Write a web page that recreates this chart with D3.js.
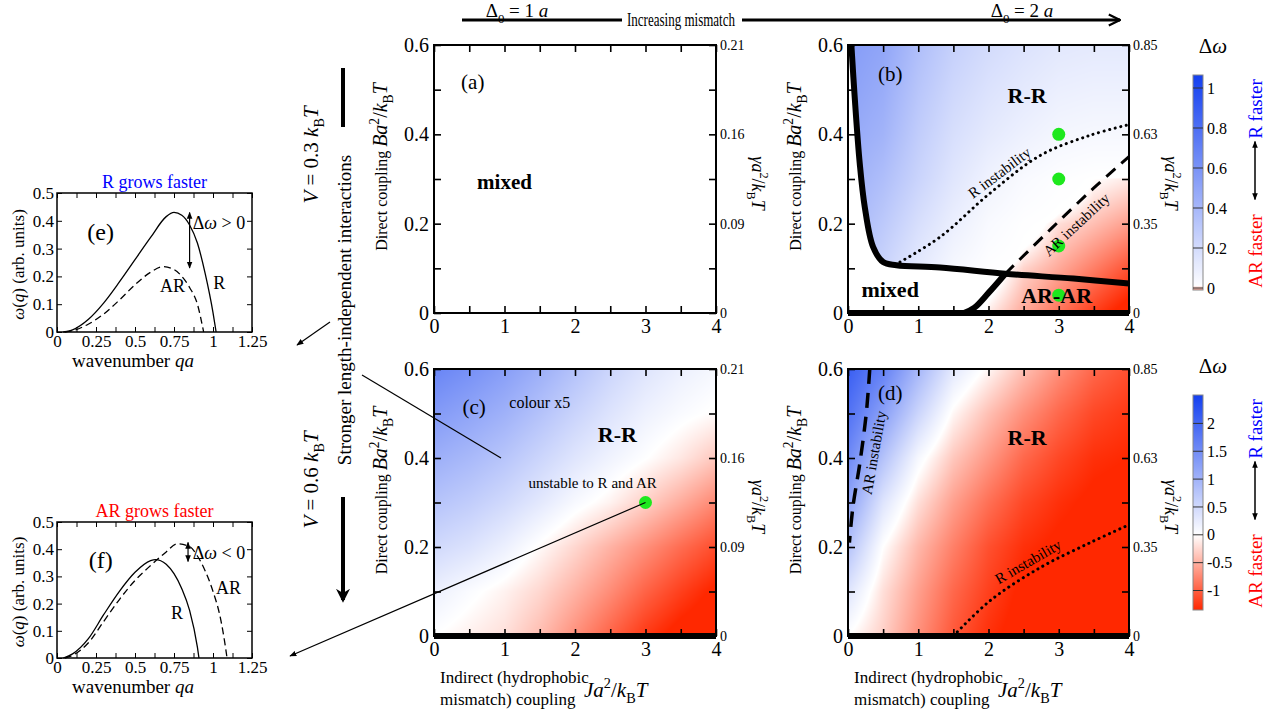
<!DOCTYPE html>
<html>
<head>
<meta charset="utf-8">
<style>
  body { margin: 0; background: #fff; }
  svg { display: block; }
  svg text { font-family: "Liberation Serif", "DejaVu Serif", serif; }
</style>
</head>
<body>
<svg width="1275" height="715"></svg>
<script src="https://d3js.org/d3.v7.min.js"></script>
<script>

// ---------- DATA ----------

// grid on which the colour maps (Delta omega) were estimated
var gridJ = [0, 0.5, 1, 1.5, 2, 2.5, 3, 3.5, 4];
var gridB = [0, 0.1, 0.2, 0.3, 0.4, 0.5, 0.6];

// panel (b), rows are B = 0 ... 0.6
var dwB = [
  [0.30, 0.20, 0.08, 0.02, -0.002, -0.008, -0.013, -0.018, -0.022],
  [0.35, 0.24, 0.12, 0.04, 0.005, -0.004, -0.008, -0.012, -0.016],
  [0.40, 0.30, 0.18, 0.09, 0.030, 0.005, -0.003, -0.006, -0.009],
  [0.44, 0.36, 0.24, 0.14, 0.070, 0.030, 0.010, 0.000, -0.002],
  [0.48, 0.42, 0.28, 0.18, 0.120, 0.080, 0.050, 0.040, 0.040],
  [0.52, 0.46, 0.32, 0.22, 0.160, 0.120, 0.090, 0.080, 0.080],
  [0.55, 0.50, 0.36, 0.26, 0.200, 0.160, 0.130, 0.120, 0.120]
];
// panel (c), already multiplied by 5 ("colour x5")
var dwC = [
  [0.00, -0.10, -0.20, -0.42, -0.70, -0.98, -1.25, -1.45, -1.55],
  [0.20, 0.05, -0.08, -0.25, -0.48, -0.72, -0.98, -1.20, -1.40],
  [0.50, 0.38, 0.20, -0.03, -0.25, -0.48, -0.70, -0.92, -1.12],
  [0.78, 0.66, 0.50, 0.30, 0.08, -0.08, -0.30, -0.52, -0.75],
  [1.05, 0.92, 0.76, 0.55, 0.34, 0.16, 0.01, -0.15, -0.35],
  [1.32, 1.18, 1.02, 0.80, 0.57, 0.36, 0.18, 0.06, -0.03],
  [1.60, 1.45, 1.27, 1.05, 0.80, 0.55, 0.35, 0.20, 0.10]
];
// panel (d)
var dwD = [
  [0.00, -0.30, -0.70, -1.05, -1.30, -1.45, -1.50, -1.50, -1.50],
  [0.35, -0.20, -0.60, -0.95, -1.20, -1.40, -1.50, -1.50, -1.50],
  [0.80, 0.00, -0.45, -0.80, -1.10, -1.30, -1.40, -1.45, -1.50],
  [1.20, 0.35, -0.20, -0.60, -0.90, -1.15, -1.30, -1.40, -1.45],
  [1.55, 0.80, 0.10, -0.35, -0.65, -0.95, -1.15, -1.30, -1.35],
  [1.85, 1.25, 0.55, -0.05, -0.40, -0.70, -0.95, -1.15, -1.25],
  [2.10, 1.65, 0.95, 0.30, -0.05, -0.40, -0.70, -0.95, -1.10]
];

// panel (b) phase boundaries
var mixedEdgeJ = [0.048, 0.095, 0.167, 0.238, 0.357, 0.5, 0.69, 1.31, 2.24, 3.21, 4];
var mixedEdgeB = [0.6, 0.484, 0.335, 0.238, 0.148, 0.114, 0.107, 0.102, 0.088, 0.077, 0.066];
var arEdgeJ = [1.65, 1.8, 2.0, 2.24];
var arEdgeB = [0, 0.012, 0.045, 0.088];
var rInstabBJ = [0.74, 1.31, 2.02, 2.74, 3.45, 3.98];
var rInstabBB = [0.114, 0.17, 0.268, 0.353, 0.398, 0.421];
var arInstabBJ = [2.24, 2.9, 3.5, 4];
var arInstabBB = [0.088, 0.19, 0.28, 0.35];
var dotsBJ = [3, 3, 3, 3];
var dotsBB = [0.4, 0.3, 0.15, 0.04];

// panel (c)
var dotsCJ = [3];
var dotsCB = [0.3];

// panel (d) instability lines
var arInstabDJ = [0.31, 0.26, 0.17, 0.07, 0.02];
var arInstabDB = [0.6, 0.5, 0.39, 0.29, 0.21];
var rInstabDJ = [1.5, 2.02, 2.74, 3.45, 4];
var rInstabDB = [0, 0.079, 0.154, 0.21, 0.25];

// axis ticks
var jTicks = [0, 1, 2, 3, 4];
var bTicks = [0, 0.2, 0.4, 0.6];
var gammaLabelsA = ["0", "0.09", "0.16", "0.21"];
var gammaLabelsB = ["0", "0.35", "0.63", "0.85"];
var cbTicksB = [0, 0.2, 0.4, 0.6, 0.8, 1];
var cbTicksD = [-1, -0.5, 0, 0.5, 1, 1.5, 2];

// panels (e) and (f): growth rate omega(q)
var qTicks = [0, 0.25, 0.5, 0.75, 1, 1.25];
var wTicks = [0, 0.1, 0.2, 0.3, 0.4, 0.5];
var eRq = [0.04, 0.1, 0.2, 0.3, 0.4, 0.5, 0.6, 0.7, 0.75, 0.8, 0.85, 0.9, 0.95, 1.0, 1.02];
var eRw = [0, 0.008, 0.045, 0.105, 0.18, 0.26, 0.34, 0.415, 0.43, 0.42, 0.385, 0.32, 0.21, 0.07, 0];
var eARq = [0.05, 0.1, 0.2, 0.3, 0.4, 0.5, 0.6, 0.68, 0.75, 0.8, 0.85, 0.9, 0.94];
var eARw = [0, 0.005, 0.028, 0.065, 0.115, 0.17, 0.215, 0.235, 0.225, 0.2, 0.16, 0.1, 0];
var fRq = [0.04, 0.1, 0.2, 0.3, 0.4, 0.5, 0.6, 0.63, 0.7, 0.75, 0.8, 0.85, 0.9, 0.91];
var fRw = [0, 0.015, 0.07, 0.16, 0.245, 0.315, 0.358, 0.362, 0.345, 0.31, 0.255, 0.175, 0.04, 0];
var fARq = [0.05, 0.1, 0.2, 0.3, 0.4, 0.5, 0.6, 0.7, 0.77, 0.85, 0.9, 0.95, 1.0, 1.05, 1.08, 1.09];
var fARw = [0, 0.01, 0.055, 0.135, 0.215, 0.285, 0.34, 0.39, 0.42, 0.41, 0.375, 0.32, 0.245, 0.14, 0.04, 0];

// ---------- SETUP ----------

var svg = d3.select("svg");
var RED = "#ff2800", BLUE = "#1440f0", GREEN = "#1ee81e";

var colorB = d3.scaleLinear().domain([-0.02, 0, 1.06]).range([RED, "#fff", BLUE]).clamp(true);
var colorD = d3.scaleLinear().domain([-1.35, 0, 2.5]).range([RED, "#fff", BLUE]).clamp(true);

function zip(a, b) { return a.map(function(v, i) { return [v, b[i]]; }); }

// tspans for little bits of maths
function rich(t, parts, size) {
  var shift = 0;
  parts.forEach(function(p) {
    var s = t.append("tspan").text(p.t);
    var want = p.sub ? size * 0.3 : p.sup ? -size * 0.42 : 0;
    if (want !== shift) { s.attr("dy", want - shift); shift = want; }
    if (p.i) s.attr("font-style", "italic");
    if (p.sub || p.sup) s.attr("font-size", size * 0.68);
    if (p.fs) s.attr("font-size", p.fs);
  });
  return t;
}

function label(x, y, size, rot, anchor) {
  return svg.append("text")
    .attr("transform", "translate(" + x + "," + y + ")" + (rot ? " rotate(" + rot + ")" : ""))
    .attr("text-anchor", anchor || "middle")
    .attr("font-size", size);
}

// bilinear lookup in the estimated grid
function sample(grid, J, B) {
  var i = Math.max(0, Math.min(gridJ.length - 2, d3.bisectRight(gridJ, J) - 1));
  var j = Math.max(0, Math.min(gridB.length - 2, d3.bisectRight(gridB, B) - 1));
  var tx = (J - gridJ[i]) / (gridJ[i + 1] - gridJ[i]);
  var ty = (B - gridB[j]) / (gridB[j + 1] - gridB[j]);
  return (1 - tx) * (1 - ty) * grid[j][i] + tx * (1 - ty) * grid[j][i + 1] +
         (1 - tx) * ty * grid[j + 1][i] + tx * ty * grid[j + 1][i + 1];
}

function heat(x, y, grid, color) {
  var x0 = x.range()[0], y0 = y.range()[1];
  var w = Math.round(x.range()[1] - x0), h = Math.round(y.range()[0] - y0);
  var cv = document.createElement("canvas");
  cv.width = w; cv.height = h;
  var ctx = cv.getContext("2d"), img = ctx.createImageData(w, h);
  for (var py = 0; py < h; py++) {
    for (var px = 0; px < w; px++) {
      var c = d3.rgb(color(sample(grid, x.invert(x0 + px + 0.5), y.invert(y0 + py + 0.5))));
      var k = (py * w + px) * 4;
      img.data[k] = c.r; img.data[k + 1] = c.g; img.data[k + 2] = c.b; img.data[k + 3] = 255;
    }
  }
  ctx.putImageData(img, 0, 0);
  svg.append("image").attr("x", x0).attr("y", y0).attr("width", w).attr("height", h)
    .attr("preserveAspectRatio", "none").attr("href", cv.toDataURL());
}

function panelScales(p) {
  return {
    x: d3.scaleLinear().domain([0, 4]).range([p.x0, p.x1]),
    y: d3.scaleLinear().domain([0, 0.6]).range([p.y1, p.y0])
  };
}

function frameAxes(s, gammaLabels) {
  var x = s.x, y = s.y;
  var minorJ = d3.range(0, 4.01, 0.5), minorB = d3.range(0, 0.61, 0.1).map(function(d) { return +d.toFixed(1); });
  var g = svg.append("g");
  g.append("g").attr("transform", "translate(0," + y.range()[0] + ")")
    .call(d3.axisBottom(x).tickValues(minorJ).tickSize(-7).tickPadding(6)
      .tickFormat(function(d) { return jTicks.indexOf(d) >= 0 ? d : ""; }));
  g.append("g").attr("transform", "translate(0," + y.range()[1] + ")")
    .call(d3.axisTop(x).tickValues(minorJ).tickSize(-7).tickFormat(""));
  g.append("g").attr("transform", "translate(" + x.range()[0] + ",0)")
    .call(d3.axisLeft(y).tickValues(minorB).tickSize(-7).tickPadding(5)
      .tickFormat(function(d) { return bTicks.indexOf(d) >= 0 ? (d === 0 ? "0" : d3.format(".1f")(d)) : ""; }));
  var right = g.append("g").attr("transform", "translate(" + x.range()[1] + ",0)")
    .call(d3.axisRight(y).tickValues(minorB).tickSize(-7).tickPadding(4)
      .tickFormat(function(d) { var k = bTicks.indexOf(d); return k >= 0 ? gammaLabels[k] : ""; }));
  g.selectAll(".domain").remove();
  g.selectAll(".tick line").attr("stroke", "#000").attr("stroke-width", 1.6);
  g.selectAll("text").attr("font-size", 20).attr("fill", "#000");
  right.selectAll("text").attr("font-size", 14);
  svg.append("rect").attr("x", x.range()[0]).attr("y", y.range()[1])
    .attr("width", x.range()[1] - x.range()[0]).attr("height", y.range()[0] - y.range()[1])
    .attr("fill", "none").attr("stroke", "#000").attr("stroke-width", 2);
}

function yTitles(s) {
  var x0 = s.x.range()[0], x1 = s.x.range()[1];
  var cy = (s.y.range()[0] + s.y.range()[1]) / 2 - 12;
  rich(label(x0 - 47, cy, 16, -90), [
    { t: "Direct coupling " }, { t: "Ba", i: 1, fs: 20 }, { t: "2", sup: 1 },
    { t: "/", fs: 20 }, { t: "k", i: 1, fs: 20 }, { t: "B", sub: 1 }, { t: "T", i: 1, fs: 20 }], 20);
  rich(label(x1 + 36, cy + 16, 18, 90), [
    { t: "γa", i: 1 }, { t: "2", sup: 1 }, { t: "/" }, { t: "k", i: 1 }, { t: "B", sub: 1 }, { t: "T", i: 1 }], 18);
}

function xTitle(s) {
  var x0 = s.x.range()[0], yb = s.y.range()[0];
  label(x0 + 6, yb + 47, 17, 0, "start").text("Indirect (hydrophobic");
  label(x0 + 6, yb + 69, 17, 0, "start").text("mismatch) coupling");
  rich(label(x0 + 150, yb + 61, 21, 0, "start"), [
    { t: "Ja", i: 1 }, { t: "2", sup: 1 }, { t: "/" }, { t: "k", i: 1 }, { t: "B", sub: 1 }, { t: "T", i: 1 }], 21);
}

var line = d3.line().curve(d3.curveCatmullRom.alpha(0.5));
function curve(s, J, B, width, dash) {
  var p = svg.append("path")
    .attr("d", line(zip(J, B).map(function(d) { return [s.x(d[0]), s.y(d[1])]; })))
    .attr("fill", "none").attr("stroke", "#000").attr("stroke-width", width)
    .attr("stroke-linejoin", "round");
  if (dash === "dot") p.attr("stroke-dasharray", "0.1,5.6").attr("stroke-linecap", "round");
  else if (dash) p.attr("stroke-dasharray", dash);
  return p;
}
function dots(s, J, B) {
  svg.append("g").selectAll("circle").data(zip(J, B)).join("circle")
    .attr("cx", function(d) { return s.x(d[0]); }).attr("cy", function(d) { return s.y(d[1]); })
    .attr("r", 6.5).attr("fill", GREEN);
}
function bottomBar(s) {
  svg.append("line").attr("x1", s.x(0)).attr("x2", s.x(4)).attr("y1", s.y(0)).attr("y2", s.y(0))
    .attr("stroke", "#000").attr("stroke-width", 6);
}

// arrow markers
var defs = svg.append("defs");
defs.append("marker").attr("id", "tri").attr("viewBox", "0 0 10 10").attr("refX", 9).attr("refY", 5)
  .attr("markerWidth", 7).attr("markerHeight", 7).attr("markerUnits", "userSpaceOnUse").attr("orient", "auto-start-reverse")
  .append("path").attr("d", "M0,1 L10,5 L0,9 Z").attr("fill", "#000");
defs.append("marker").attr("id", "big").attr("viewBox", "0 0 10 10").attr("refX", 8).attr("refY", 5)
  .attr("markerWidth", 14).attr("markerHeight", 14).attr("markerUnits", "userSpaceOnUse").attr("orient", "auto")
  .append("path").attr("d", "M0,0 L10,5 L0,10 L3,5 Z").attr("fill", "#000");
defs.append("marker").attr("id", "open").attr("viewBox", "0 0 10 10").attr("refX", 9).attr("refY", 5)
  .attr("markerWidth", 14).attr("markerHeight", 14).attr("markerUnits", "userSpaceOnUse").attr("orient", "auto")
  .append("path").attr("d", "M1,1 L9,5 L1,9").attr("fill", "none").attr("stroke", "#000").attr("stroke-width", 1.6);

// ---------- PANEL (a) ----------
var A = panelScales({ x0: 434, x1: 716, y0: 45, y1: 313 });
frameAxes(A, gammaLabelsA);
yTitles(A);
label(A.x(0.55), A.y(0.502), 21).text("(a)");
label(A.x(1.0), A.y(0.278), 21).attr("font-weight", "bold").text("mixed");

// ---------- PANEL (b) ----------
var Bp = panelScales({ x0: 848, x1: 1129, y0: 45, y1: 313 });
heat(Bp.x, Bp.y, dwB, colorB);
// mixed (uncoloured) region
var mixedPoly = [[0, 0.6]]
  .concat(zip(mixedEdgeJ, mixedEdgeB).filter(function(d) { return d[0] <= 2.25; }))
  .concat(zip(arEdgeJ, arEdgeB).reverse())
  .concat([[0, 0]]);
svg.append("path").attr("fill", "#fff")
  .attr("d", d3.line().curve(d3.curveCatmullRom.alpha(0.5))(mixedPoly.map(function(d) { return [Bp.x(d[0]), Bp.y(d[1])]; })));
curve(Bp, rInstabBJ, rInstabBB, 3, "dot");
curve(Bp, arInstabBJ, arInstabBB, 3, "12,8");
curve(Bp, mixedEdgeJ, mixedEdgeB, 6);
curve(Bp, arEdgeJ, arEdgeB, 6);
bottomBar(Bp);
dots(Bp, dotsBJ, dotsBB);
frameAxes(Bp, gammaLabelsB);
yTitles(Bp);
label(Bp.x(0.6), Bp.y(0.52), 21).text("(b)");
label(Bp.x(2.55), Bp.y(0.47), 22).attr("font-weight", "bold").text("R-R");
label(Bp.x(0.6), Bp.y(0.035), 22).attr("font-weight", "bold").text("mixed");
label(Bp.x(2.97), Bp.y(0.022), 22).attr("font-weight", "bold").text("AR-AR");
label(Bp.x(2.2), Bp.y(0.305), 15, -37).text("R instability");
label(Bp.x(3.3), Bp.y(0.19), 15, -43).text("AR instability");

// ---------- PANEL (c) ----------
var C = panelScales({ x0: 434, x1: 716, y0: 369, y1: 636 });
heat(C.x, C.y, dwC, colorD);
bottomBar(C);
dots(C, dotsCJ, dotsCB);
frameAxes(C, gammaLabelsA);
yTitles(C);
xTitle(C);
label(C.x(0.57), C.y(0.5), 21).text("(c)");
label(C.x(1.5), C.y(0.512), 16).text("colour x5");
label(C.x(2.6), C.y(0.436), 22).attr("font-weight", "bold").text("R-R");
label(C.x(2.25), C.y(0.333), 15).text("unstable to R and AR");

// ---------- PANEL (d) ----------
var D = panelScales({ x0: 848, x1: 1129, y0: 369, y1: 636 });
heat(D.x, D.y, dwD, colorD);
curve(D, arInstabDJ, arInstabDB, 3.5, "15,9");
curve(D, rInstabDJ, rInstabDB, 3, "dot");
bottomBar(D);
frameAxes(D, gammaLabelsB);
yTitles(D);
xTitle(D);
label(D.x(0.6), D.y(0.53), 21).text("(d)");
label(D.x(2.55), D.y(0.43), 22).attr("font-weight", "bold").text("R-R");
label(D.x(0.44), D.y(0.41), 15, -80).text("AR instability");
label(D.x(2.6), D.y(0.157), 15, -30).text("R instability");

// ---------- COLOUR BARS ----------
function colorbar(top, bottom, color, ticks, dom) {
  var y = d3.scaleLinear().domain(dom).range([bottom, top]);
  var id = "cb" + top;
  var grad = defs.append("linearGradient").attr("id", id).attr("x1", 0).attr("x2", 0).attr("y1", 1).attr("y2", 0);
  d3.range(0, 1.0001, 0.02).forEach(function(t) {
    grad.append("stop").attr("offset", t).attr("stop-color", color(dom[0] + t * (dom[1] - dom[0])));
  });
  svg.append("rect").attr("x", 1193).attr("y", top).attr("width", 10).attr("height", bottom - top)
    .attr("fill", "url(#" + id + ")").attr("stroke", "#888").attr("stroke-width", 1);
  svg.append("g").selectAll("line").data(ticks).join("line")
    .attr("x1", 1193).attr("x2", 1203).attr("y1", y).attr("y2", y).attr("stroke", "#333").attr("stroke-width", 1);
  svg.append("g").selectAll("text").data(ticks).join("text")
    .attr("x", 1207).attr("y", y).attr("dy", "0.35em").attr("font-size", 16).text(function(d) { return d; });
  rich(label(1213, top - 22, 21), [{ t: "Δ" }, { t: "ω", i: 1 }], 21);
  label(1262, top + 34, 19, -90).attr("fill", "#0000ff").text("R faster");
  label(1262, bottom - 39, 19, -90).attr("fill", "#ff0000").text("AR faster");
  var am = (top + bottom) / 2 - 12;
  svg.append("line").attr("x1", 1255).attr("x2", 1255).attr("y1", am - 29).attr("y2", am + 29)
    .attr("stroke", "#000").attr("stroke-width", 1.5)
    .attr("marker-start", "url(#tri)").attr("marker-end", "url(#tri)");
}
colorbar(75, 290, colorB, cbTicksB, [-0.01, 1.065]);
colorbar(395, 610, colorD, cbTicksD, [-1.35, 2.51]);

// ---------- PANELS (e) and (f) ----------
function growth(p, title, titleColor, tag, Rq, Rw, ARq, ARw) {
  var x = d3.scaleLinear().domain([0, 1.25]).range([p.x0, p.x1]);
  var y = d3.scaleLinear().domain([0, 0.5]).range([p.y1, p.y0]);
  var g = svg.append("g");
  var minorQ = d3.range(0, 1.2501, 0.125);
  g.append("g").attr("transform", "translate(0," + p.y1 + ")")
    .call(d3.axisBottom(x).tickValues(minorQ).tickSize(-5).tickPadding(3)
      .tickFormat(function(d) { return qTicks.indexOf(d) >= 0 ? String(d) : ""; }));
  g.append("g").attr("transform", "translate(0," + p.y0 + ")")
    .call(d3.axisTop(x).tickValues(minorQ).tickSize(-5).tickFormat(""));
  g.append("g").attr("transform", "translate(" + p.x0 + ",0)")
    .call(d3.axisLeft(y).tickValues(wTicks).tickSize(-5).tickPadding(3)
      .tickFormat(function(d) { return d === 0 ? "0" : d3.format(".1f")(d); }));
  g.append("g").attr("transform", "translate(" + p.x1 + ",0)")
    .call(d3.axisRight(y).tickValues(wTicks).tickSize(-5).tickFormat(""));
  g.selectAll(".domain").remove();
  g.selectAll(".tick line").attr("stroke", "#000");
  g.selectAll("text").attr("font-size", 17).attr("fill", "#000");
  svg.append("rect").attr("x", p.x0).attr("y", p.y0).attr("width", p.x1 - p.x0).attr("height", p.y1 - p.y0)
    .attr("fill", "none").attr("stroke", "#000").attr("stroke-width", 1.5);
  var ln = d3.line().curve(d3.curveMonotoneX).x(function(d) { return x(d[0]); }).y(function(d) { return y(d[1]); });
  svg.append("path").attr("d", ln(zip(Rq, Rw))).attr("fill", "none").attr("stroke", "#000").attr("stroke-width", 1.3);
  svg.append("path").attr("d", ln(zip(ARq, ARw))).attr("fill", "none").attr("stroke", "#000")
    .attr("stroke-width", 1.3).attr("stroke-dasharray", "7,4");
  label((p.x0 + p.x1) / 2, p.y0 - 5, 18).attr("fill", titleColor).text(title);
  rich(label(p.x0 + 76, p.y1 + 35, 19), [{ t: "wavenumber " }, { t: "qa", i: 1 }], 19);
  rich(label(p.x0 - 33, (p.y0 + p.y1) / 2 + 2, 17, -90), [{ t: "ω", i: 1 }, { t: "(" }, { t: "q", i: 1 }, { t: ") (arb. units)" }], 17);
  label(x(0.28), y(0.33), 24).text(tag);
  return { x: x, y: y };
}

var E = growth({ x0: 57, x1: 252, y0: 193, y1: 332 }, "R grows faster", "#0000ff", "(e)", eRq, eRw, eARq, eARw);
svg.append("line").attr("x1", E.x(0.85)).attr("x2", E.x(0.85)).attr("y1", E.y(0.23)).attr("y2", E.y(0.43))
  .attr("stroke", "#000").attr("stroke-width", 1.2).attr("marker-start", "url(#tri)").attr("marker-end", "url(#tri)");
rich(label(E.x(0.87), E.y(0.37), 18, 0, "start"), [{ t: "Δ" }, { t: "ω", i: 1 }, { t: " > 0" }], 18);
label(E.x(1.04), E.y(0.155), 18).text("R");
label(E.x(0.74), E.y(0.145), 18).text("AR");

var F = growth({ x0: 57, x1: 252, y0: 522, y1: 658 }, "AR grows faster", "#ff0000", "(f)", fRq, fRw, fARq, fARw);
svg.append("line").attr("x1", F.x(0.84)).attr("x2", F.x(0.84)).attr("y1", F.y(0.355)).attr("y2", F.y(0.425))
  .attr("stroke", "#000").attr("stroke-width", 1.2).attr("marker-start", "url(#tri)").attr("marker-end", "url(#tri)");
rich(label(F.x(0.87), F.y(0.365), 18, 0, "start"), [{ t: "Δ" }, { t: "ω", i: 1 }, { t: " < 0" }], 18);
label(F.x(0.77), F.y(0.145), 18).text("R");
label(F.x(1.1), F.y(0.235), 18).text("AR");

// ---------- TOP AND LEFT ANNOTATIONS ----------
svg.append("line").attr("x1", 462).attr("x2", 622).attr("y1", 20).attr("y2", 20).attr("stroke", "#000").attr("stroke-width", 3);
svg.append("line").attr("x1", 742).attr("x2", 1120).attr("y1", 20).attr("y2", 20).attr("stroke", "#000").attr("stroke-width", 3)
  .attr("marker-end", "url(#open)");
label(681, 26, 18).attr("textLength", 108).attr("lengthAdjust", "spacingAndGlyphs").text("Increasing mismatch");
rich(label(517, 17, 19), [{ t: "Δ" }, { t: "0", sub: 1 }, { t: " = 1 " }, { t: "a", i: 1 }], 19);
rich(label(1022, 17, 19), [{ t: "Δ" }, { t: "0", sub: 1 }, { t: " = 2 " }, { t: "a", i: 1 }], 19);

rich(label(318, 155, 21, -90), [{ t: "V", i: 1 }, { t: " = 0.3 " }, { t: "k", i: 1 }, { t: "B", sub: 1 }, { t: "T", i: 1 }], 21);
rich(label(318, 480, 21, -90), [{ t: "V", i: 1 }, { t: " = 0.6 " }, { t: "k", i: 1 }, { t: "B", sub: 1 }, { t: "T", i: 1 }], 21);
svg.append("line").attr("x1", 343).attr("x2", 343).attr("y1", 68).attr("y2", 127).attr("stroke", "#000").attr("stroke-width", 4);
svg.append("line").attr("x1", 343).attr("x2", 343).attr("y1", 497).attr("y2", 600).attr("stroke", "#000").attr("stroke-width", 4)
  .attr("marker-end", "url(#big)");
label(351, 310, 19, -90).text("Stronger length-independent interactions");

svg.append("line").attr("x1", 362).attr("x2", C.x(0.95)).attr("y1", 375).attr("y2", C.y(0.4)).attr("stroke", "#000").attr("stroke-width", 1.2);
svg.append("line").attr("x1", 330).attr("x2", 297).attr("y1", 322).attr("y2", 345).attr("stroke", "#000").attr("stroke-width", 1.2)
  .attr("marker-end", "url(#tri)");
svg.append("line").attr("x1", C.x(3)).attr("x2", 290).attr("y1", C.y(0.3)).attr("y2", 656).attr("stroke", "#000").attr("stroke-width", 1.2)
  .attr("marker-end", "url(#tri)");

// serif everywhere (d3 axes set their own sans-serif family)
svg.selectAll("g").attr("font-family", null);
svg.selectAll("text").style("font-family", "'Liberation Serif', 'DejaVu Serif', serif");

</script>
</body>
</html>
